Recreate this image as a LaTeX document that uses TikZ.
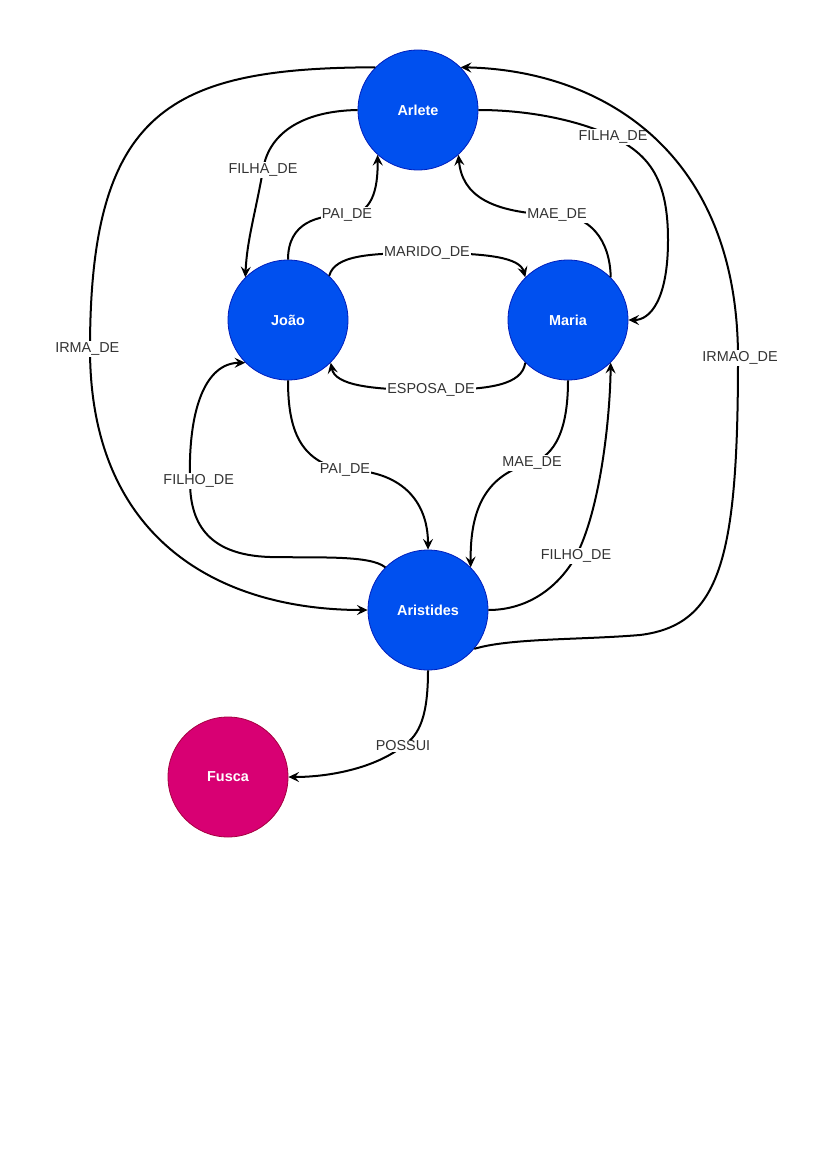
\documentclass[tikz,border=0pt]{standalone}
\usepackage{fontspec}
\setmainfont{Liberation Sans}
\usetikzlibrary{arrows.meta}
\definecolor{nodeblue}{HTML}{0050EF}
\definecolor{nodeblueline}{HTML}{001DBC}
\definecolor{nodepink}{HTML}{D80073}
\definecolor{nodepinkline}{HTML}{A50040}
\begin{document}
\begin{tikzpicture}[x=0.75pt,y=-0.75pt,
  entity/.style={circle, minimum size=90pt, inner sep=0pt, fill=nodeblue, draw=nodeblueline, line width=0.6pt, text=white, font=\fontsize{10.8pt}{13pt}\selectfont\bfseries},
  car/.style={entity, fill=nodepink, draw=nodepinkline},
  rel/.style={line width=1.5pt, -{Stealth[length=8pt,width=7.5pt,inset=3pt]}},
  lbl/.style={fill=white, inner sep=1pt, text=black!80, font=\fontsize{10.8pt}{13pt}\selectfont}]
\useasboundingbox (0,0) rectangle (827,1169);
\fill[white] (0,0) rectangle (827,1169);

\node[entity] (A) at (418,110) {Arlete};
\node[entity] (J) at (288,320) {João};
\node[entity] (M) at (568,320) {Maria};
\node[entity] (R) at (428,610) {Aristides};
\node[car]    (F) at (228,777) {Fusca};

% Arlete -> Joao FILHA_DE
\draw[rel] (A.180) .. controls (300,111) and (268,135) .. (263,170) node[lbl]{FILHA\_DE}
  .. controls (255,215) and (247,240) .. (J.135);
% Joao -> Arlete PAI_DE
\draw[rel] (J.north) .. controls (288,222) and (318,215) .. (347,215) node[lbl]{PAI\_DE}
  .. controls (372,214) and (378,190) .. (A.228);
% Maria -> Arlete MAE_DE
\draw[rel] (M.45) .. controls (610,240) and (590,215) .. (557,215) node[lbl]{MAE\_DE}
  .. controls (490,213) and (462,195) .. (A.-48);
% Arlete -> Maria FILHA_DE
\draw[rel] (A.east) .. controls (540,110) and (590,125) .. (613,137) node[lbl]{FILHA\_DE}
  .. controls (650,155) and (668,180) .. (668,240)
  .. controls (668,300) and (650,320) .. (M.east);
% Joao -> Maria MARIDO_DE
\draw[rel] (J.47) .. controls (335,255) and (370,253) .. (427,253) node[lbl]{MARIDO\_DE}
  .. controls (490,253) and (520,258) .. (M.135);
% Maria -> Joao ESPOSA_DE
\draw[rel] (M.225) .. controls (522,385) and (490,390) .. (431,390) node[lbl]{ESPOSA\_DE}
  .. controls (370,390) and (335,385) .. (J.315);
% Joao -> Aristides PAI_DE
\draw[rel] (J.south) .. controls (288,430) and (300,462) .. (345,470) node[lbl]{PAI\_DE}
  .. controls (400,470) and (428,500) .. (R.north);
% Maria -> Aristides MAE_DE
\draw[rel] (M.south) .. controls (568,430) and (555,455) .. (532,463) node[lbl]{MAE\_DE}
  .. controls (485,475) and (470,510) .. (R.45);
% Aristides -> Joao FILHO_DE
\draw[rel] (R.135) .. controls (370,555) and (320,558) .. (270,557)
  .. controls (205,555) and (190,520) .. (190,481) node[lbl, xshift=6.5pt]{FILHO\_DE}
  .. controls (188,410) and (205,363) .. (J.225);
% Aristides -> Maria FILHO_DE
\draw[rel] (R.east) .. controls (530,610) and (560,585) .. (576,556) node[lbl]{FILHO\_DE}
  .. controls (600,510) and (610,420) .. (M.-45);
% Arlete -> Aristides IRMA_DE
\draw[rel] (A.135) .. controls (170,68) and (90,110) .. (90,349) node[lbl, xshift=-2pt]{IRMA\_DE}
  .. controls (90,540) and (220,610) .. (R.west);
% Aristides -> Arlete IRMAO_DE
\draw[rel] (R.-40) .. controls (510,638) and (580,640) .. (640,635)
  .. controls (720,625) and (738,560) .. (738,358) node[lbl, xshift=1.5pt]{IRMAO\_DE}
  .. controls (738,150) and (600,70) .. (A.45);
% Aristides -> Fusca POSSUI
\draw[rel] (R.south) .. controls (428,715) and (420,735) .. (403,746) node[lbl]{POSSUI}
  .. controls (375,768) and (330,777) .. (F.east);
\end{tikzpicture}
\end{document}
